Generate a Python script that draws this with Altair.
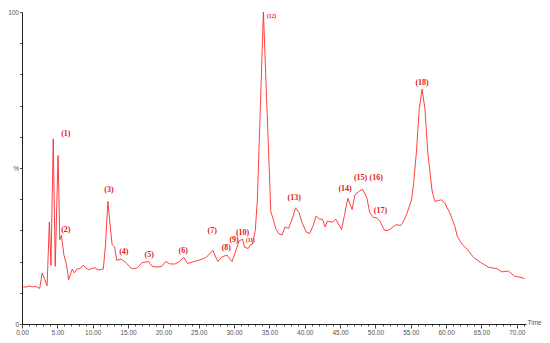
import altair as alt
import pandas as pd

# Chromatogram trace (time in minutes, relative intensity %)
times = [0.0, 0.5, 1.0, 1.5, 2.0, 2.5, 2.86, 3.18, 3.55, 3.87, 4.1, 4.42, 4.7, 5.1, 5.35, 5.57,
         5.94, 6.3, 6.6, 7.1, 7.4, 7.8, 8.2, 8.7, 9.0, 9.4, 9.9, 10.3, 10.8, 11.2, 11.5, 11.8,
         12.15, 12.45, 12.75, 13.1, 13.4, 14.0, 14.7, 15.2, 15.6, 16.3, 17.0, 17.9, 18.4, 19.1,
         19.8, 20.3, 20.9, 21.6, 22.1, 22.9, 23.4, 24.0, 24.8, 25.5, 26.0, 26.4, 27.0, 27.7,
         28.3, 29.0, 29.7, 30.1, 30.7, 31.2, 31.5, 32.0, 32.3, 32.6, 33.0, 33.3, 33.7, 34.15,
         34.6, 35.2, 35.6, 35.9, 36.3, 36.8, 37.2, 37.7, 38.2, 38.7, 39.2, 39.6, 40.2, 40.7,
         41.2, 41.6, 42.1, 42.5, 42.9, 43.2, 43.9, 44.4, 45.2, 45.6, 46.1, 46.7, 47.1, 47.8,
         48.2, 48.8, 49.2, 49.7, 50.1, 50.6, 51.3, 51.8, 52.2, 52.9, 53.6, 54.0, 54.5, 55.1,
         55.4, 55.8, 56.2, 56.6, 57.0, 57.4, 58.0, 58.4, 59.3, 59.8, 60.5, 61.2, 61.6, 62.3,
         63.0, 63.9, 64.9, 66.0, 67.2, 67.9, 68.8, 69.7, 70.4, 71.1]
values = [12.0, 11.8, 12.2, 11.9, 12.0, 11.4, 16.4, 14.5, 12.3, 32.7, 18.8, 59.3, 18.5, 54.0, 27.0, 28.4,
          22.0, 19.0, 14.2, 17.6, 16.4, 17.6, 17.8, 18.8, 18.0, 17.4, 17.8, 18.0, 17.3, 17.5, 17.6, 25.0,
          39.3, 32.0, 25.4, 24.7, 20.4, 20.8, 19.7, 18.4, 17.7, 18.0, 19.7, 20.0, 18.5, 18.2,
          18.5, 20.0, 19.3, 19.2, 19.8, 21.3, 19.4, 19.8, 20.3, 20.8, 21.3, 22.1, 23.6, 20.0,
          21.5, 22.1, 20.0, 22.5, 26.6, 27.2, 24.6, 24.2, 25.4, 25.6, 30.0, 39.8, 68.0, 100.0,
          72.6, 36.0, 33.1, 30.6, 29.0, 28.5, 31.1, 30.6, 33.6, 37.2, 35.7, 32.6, 29.5, 29.0,
          31.6, 34.6, 33.6, 33.6, 31.1, 33.0, 32.6, 33.6, 30.3, 34.7, 40.3, 36.7, 41.4, 42.7,
          43.1, 40.3, 35.7, 34.1, 34.1, 33.1, 30.0, 30.0, 30.6, 31.8, 31.6, 33.1, 35.7, 39.8,
          45.0, 55.2, 69.0, 75.3, 69.0, 55.2, 42.9, 39.3, 39.8, 38.8, 35.7, 31.6, 28.0, 25.4,
          23.9, 21.3, 19.7, 18.2, 17.7, 16.7, 17.0, 15.3, 15.0, 14.6]

# Peak annotations
peak_labels = ["(1)", "(2)", "(3)", "(4)", "(5)", "(6)", "(7)", "(8)", "(9)", "(10)",
               "(13)", "(14)", "(15)", "(16)", "(17)", "(18)"]
peak_t = [6.2, 6.2, 12.3, 14.4, 18.0, 22.8, 26.9, 28.9, 30.0, 31.2,
          38.5, 45.7, 47.9, 50.1, 50.7, 56.6]
peak_v = [60.8, 30.2, 42.9, 23.1, 22.2, 23.5, 29.9, 24.4, 26.9, 29.3,
          40.4, 43.2, 46.9, 46.9, 36.1, 77.2]

small_labels = ["(11)", "(12)"]
small_t = [32.3, 35.3]
small_v = [26.9, 98.8]

x_ticks = list(range(0, 72))
y_ticks = list(range(0, 101, 10))

trace = pd.DataFrame({"t": times, "v": values})
peaks = pd.DataFrame({"label": peak_labels, "t": peak_t, "v": peak_v})
smalls = pd.DataFrame({"label": small_labels, "t": small_t, "v": small_v})

W, H = 504, 312
x_scale = alt.Scale(domain=[0, 71.3], nice=False, zero=False)
y_scale = alt.Scale(domain=[0, 100], nice=False)

x_axis = alt.Axis(
    values=x_ticks,
    labelExpr="datum.value % 5 === 0 ? format(datum.value, '.2f') : ''",
    tickSize=alt.condition("datum.value % 5 === 0", alt.value(4), alt.value(2)),
    tickColor="#222", domainColor="#222", domainWidth=1, tickWidth=0.8,
    labelFontSize=6.5, labelFont="Liberation Sans", labelColor="#555",
    labelPadding=1, labelFlush=False, labelOverlap=False, grid=False,
    title="Time", titleFontSize=6.5, titleFont="Liberation Sans", titleColor="#555",
    titleFontWeight="normal", titleAngle=0, titleAlign="left", titleBaseline="middle",
    titleX=W + 1, titleY=-2,
)
y_axis = alt.Axis(
    values=y_ticks,
    labelExpr="datum.value === 100 ? '100' : (datum.value === 50 ? '%' : (datum.value === 0 ? '0' : ''))",
    tickSize=2.5, tickColor="#222", domainColor="#222", domainWidth=1, tickWidth=0.8,
    labelFontSize=6.5, labelFont="Liberation Sans", labelColor="#555",
    labelPadding=1, labelFlush=False, labelOverlap=False, grid=False, title=None,
)

enc_x = alt.X("t:Q", scale=x_scale, axis=x_axis, title="Time")
enc_y = alt.Y("v:Q", scale=y_scale, axis=y_axis, title=None)

line = alt.Chart(trace).mark_line(color="#ff2a2a", strokeWidth=0.9, clip=True).encode(
    x=enc_x, y=enc_y,
)

text_main = alt.Chart(peaks).mark_text(
    font="Liberation Serif", fontWeight="bold", fontSize=8, color="#e0141e"
).encode(x=enc_x, y=enc_y, text="label:N")

text_small = alt.Chart(smalls).mark_text(
    font="Liberation Serif", fontWeight="bold", fontSize=5.5, color="#e0141e"
).encode(x=enc_x, y=enc_y, text="label:N")

chart = alt.layer(line, text_main, text_small).properties(
    width=W, height=H, autosize="none",
    padding={"left": 14, "top": 4, "right": 16, "bottom": 11},
).configure_view(stroke=None)

chart.save("out.html", embed_options={"renderer": "svg", "actions": False})
